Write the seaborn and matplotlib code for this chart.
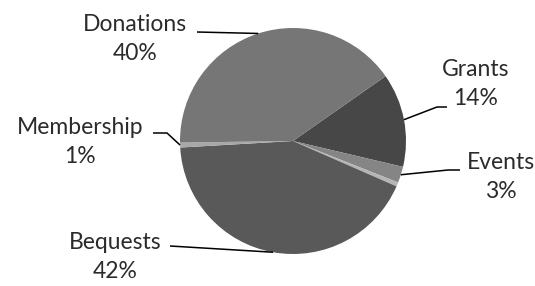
import numpy as np
import matplotlib
matplotlib.use("Agg")
import matplotlib.pyplot as plt
import seaborn as sns

sns.set_style("white")
plt.rcParams['font.family'] = ['Lato', 'DejaVu Sans']

# income sources, clockwise from the Grants slice
sources = ["Grants", "Events", "", "Bequests", "Membership", "Donations"]
shares = [13.4, 2.3, 0.6, 42.5, 0.7, 40.5]
pct_labels = ["14%", "3%", "", "42%", "1%", "40%"]
colors = ["#474747", "#858585", "#b5b5b5", "#595959", "#a8a8a8", "#767676"]

# label text centre (pixels, y down) and leader line start / elbow
label_pos = {"Grants": (476, 84), "Events": (501, 177), "Bequests": (115, 257),
             "Membership": (80, 142), "Donations": (135, 39)}
elbow = {"Grants": (437, 107), "Events": (448, 170), "Bequests": (170, 246),
         "Membership": (167, 133), "Donations": (197, 32)}
line_start = {"Grants": (447, 107), "Events": (460, 170), "Bequests": (170, 246),
              "Membership": (153, 133), "Donations": (197, 32)}

W, H = 535, 286
fig = plt.figure(figsize=(W / 100, H / 100), dpi=100)
ax = fig.add_axes([0, 0, 1, 1])

cx, cy, r = 293, H - 141, 113
wedges, _ = ax.pie(shares, colors=colors, startangle=35, counterclock=False,
                   center=(cx, cy), radius=r, frame=True,
                   wedgeprops=dict(linewidth=0))
ax.set_xlim(0, W)
ax.set_ylim(0, H)
ax.axis("off")

for w, name, pct in zip(wedges, sources, pct_labels):
    if not name:
        continue
    mid = np.deg2rad((w.theta1 + w.theta2) / 2)
    ex, ey = cx + r * np.cos(mid), cy + r * np.sin(mid)
    sx, sy = line_start[name]
    kx, ky = elbow[name]
    ax.plot([sx, kx, ex], [H - sy, H - ky, ey], color="black", lw=1.1,
            solid_capstyle="butt")
    tx, ty = label_pos[name]
    ax.text(tx, H - ty, name + "\n" + pct, ha="center", va="center",
            fontsize=16.5, color="#2b2b2b", linespacing=1.5)

fig.savefig("out.png", dpi=100)
